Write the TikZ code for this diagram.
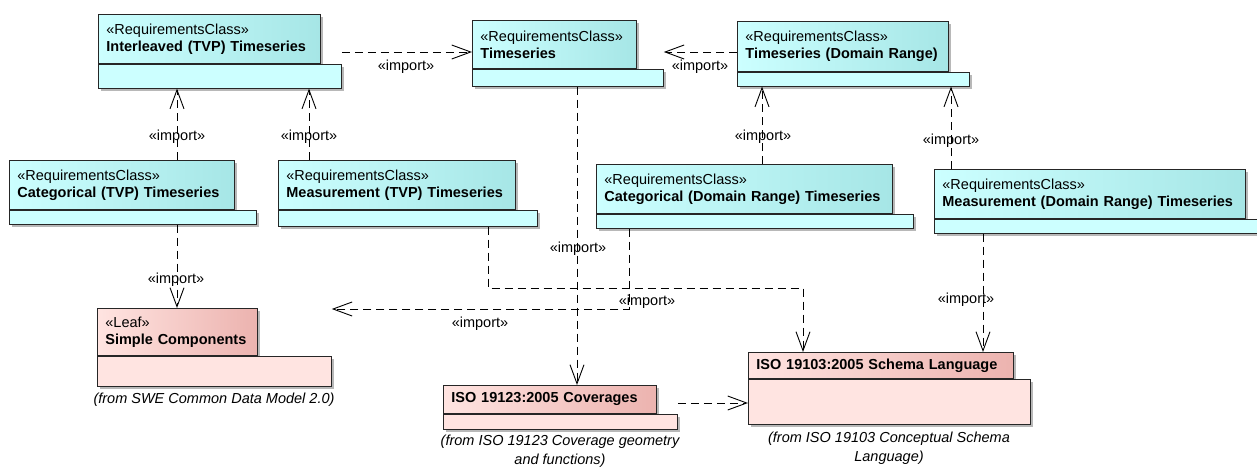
\documentclass[tikz,border=0pt]{standalone}
\usepackage{fontspec}
\setmainfont{Liberation Sans}
\usetikzlibrary{arrows.meta,shadows}

\definecolor{reqL}{HTML}{CCFFFF}
\definecolor{reqR}{HTML}{A6E6E6}
\definecolor{pkgL}{HTML}{FFE4E1}
\definecolor{pkgR}{HTML}{ECB3AF}

\begin{document}
\begin{tikzpicture}[x=1pt,y=-1pt]
\tikzstyle{every node}+=[font=\fontsize{14.5}{17}\selectfont]
\tikzstyle{box}=[draw=black!85, line width=0.8pt, anchor=north west, inner xsep=8pt, inner ysep=0pt,
  general shadow={fill=black!28, shadow xshift=3pt, shadow yshift=-3pt}]
\tikzstyle{reqhead}=[box, align=left, left color=reqL, right color=reqR]
\tikzstyle{reqbody}=[box, fill=reqL]
\tikzstyle{pkghead}=[box, align=left, left color=pkgL, right color=pkgR]
\tikzstyle{pkgbody}=[box, fill=pkgL]
\tikzstyle{dep}=[draw, line width=0.9pt, dash pattern=on 8pt off 5pt, -{Straight Barb[length=19pt,width=14pt,line width=0.9pt]}]
\tikzstyle{imp}=[inner sep=0pt]
\tikzstyle{from}=[inner sep=0pt, align=center, font=\fontsize{14.5}{19}\selectfont\itshape]

\useasboundingbox (0,0) rectangle (1257,468);

% top row
\node[reqhead, text width=206pt, minimum height=49pt] (interH) at (98,14)
  {«RequirementsClass»\\\textbf{Interleaved (TVP) Timeseries}};
\node[reqbody, minimum width=243pt, minimum height=24pt] (interB) at (interH.south west) {};
\node[reqhead, text width=148pt, minimum height=48pt] (tsH) at (472,20)
  {«RequirementsClass»\\\textbf{Timeseries}};
\node[reqbody, minimum width=191pt, minimum height=17pt] (tsB) at (tsH.south west) {};
\node[reqhead, text width=195pt, minimum height=50pt] (tsdrH) at (737,21)
  {«RequirementsClass»\\\textbf{Timeseries (Domain Range)}};
\node[reqbody, minimum width=232pt, minimum height=14pt] (tsdrB) at (tsdrH.south west) {};

% middle row
\node[reqhead, text width=209pt, minimum height=49pt] (catTvpH) at (9,160)
  {«RequirementsClass»\\\textbf{Categorical (TVP) Timeseries}};
\node[reqbody, minimum width=247pt, minimum height=14pt] (catTvpB) at (catTvpH.south west) {};
\node[reqhead, text width=221pt, minimum height=49pt] (measTvpH) at (278,160)
  {«RequirementsClass»\\\textbf{Measurement (TVP) Timeseries}};
\node[reqbody, minimum width=259pt, minimum height=16pt] (measTvpB) at (measTvpH.south west) {};
\node[reqhead, text width=280pt, minimum height=49pt] (catDrH) at (596,164)
  {«RequirementsClass»\\\textbf{Categorical (Domain Range) Timeseries}};
\node[reqbody, minimum width=317pt, minimum height=14pt] (catDrB) at (catDrH.south west) {};
\node[reqhead, text width=295pt, minimum height=49pt] (measDrH) at (934,169)
  {«RequirementsClass»\\\textbf{Measurement (Domain Range) Timeseries}};
\node[reqbody, minimum width=332pt, minimum height=14pt] (measDrB) at (measDrH.south west) {};

% bottom row (packages)
\node[pkghead, text width=144pt, minimum height=47pt] (simpleH) at (97,308)
  {«Leaf»\\\textbf{Simple Components}};
\node[pkgbody, minimum width=234pt, minimum height=30pt] (simpleB) at (simpleH.south west) {};
\node[pkghead, text width=197pt, minimum height=28pt] (covH) at (443,385)
  {\textbf{ISO 19123:2005 Coverages}};
\node[pkgbody, minimum width=234pt, minimum height=15pt] (covB) at (covH.south west) {};
\node[pkghead, text width=249pt, minimum height=26pt] (langH) at (748,352)
  {\textbf{ISO 19103:2005 Schema Language}};
\node[pkgbody, minimum width=282pt, minimum height=45pt] (langB) at (langH.south west) {};

\node[from] (simpleFrom) at (214,400) {(from SWE Common Data Model 2.0)};
\node[from, anchor=north] (covFrom) at (560,435) {(from ISO 19123 Coverage geometry\\and functions)};
\node[from, anchor=north] (langFrom) at (889,432) {(from ISO 19103 Conceptual Schema\\Language)};

% imports along the top
\draw[dep] (interB.east |- 0,52) -- (tsH.west |- 0,52);
\node[imp] (imp1) at (406,67) {«import»};
\draw[dep] (tsdrH.west |- 0,52) -- (tsB.east |- 0,52);
\node[imp] (imp2) at (700,67) {«import»};

% imports going up
\draw[dep] (catTvpH.north -| 177,0) -- (interB.south -| 177,0);
\node[imp] (imp3) at (177,137) {«import»};
\draw[dep] (measTvpH.north -| 309,0) -- (interB.south -| 309,0);
\node[imp] (imp4) at (309,137) {«import»};
\draw[dep] (catDrH.north -| 762,0) -- (tsdrB.south -| 762,0);
\node[imp] (imp5) at (763,137) {«import»};
\draw[dep] (measDrH.north -| 951,0) -- (tsdrB.south -| 951,0);
\node[imp] (imp6) at (951,141) {«import»};

% imports going down
\draw[dep] (tsB.south -| 577,0) -- (covH.north -| 577,0);
\node[imp] (imp7) at (578,249) {«import»};
\draw[dep] (catTvpB.south -| 177,0) -- (simpleH.north -| 177,0);
\node[imp] (imp8) at (176,280) {«import»};
\draw[dep] (measTvpB.south -| 488,0) |- (803,288) -- (langH.north -| 803,0);
\node[imp] (imp9) at (647,302) {«import»};
\draw[dep] (catDrB.south -| 629,0) |- (simpleB.east |- 0,309);
\node[imp] (imp10) at (480,324) {«import»};
\draw[dep] (measDrB.south -| 983,0) -- (langH.north -| 983,0);
\node[imp] (imp11) at (966,300) {«import»};
\draw[dep] (covB.east |- 0,403) -- (langB.west |- 0,403);
\end{tikzpicture}
\end{document}
